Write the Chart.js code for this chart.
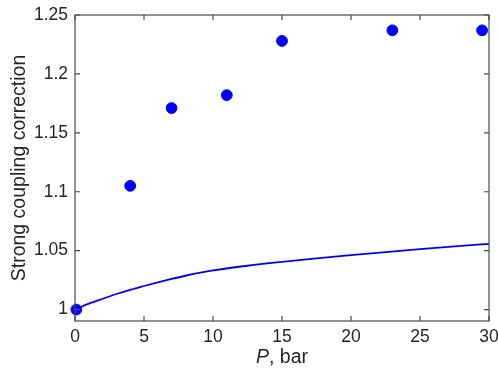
<!DOCTYPE html>
<html>
<head>
<meta charset="utf-8">
<script src="https://cdn.jsdelivr.net/npm/chart.js@4/dist/chart.umd.min.js"></script>
<style>
 html, body { margin: 0; padding: 0; background: #fff; }
 #wrap { width: 498px; height: 374px; }
</style>
</head>
<body>
<div id="wrap"><canvas id="chart" width="498" height="374"></canvas></div>
<script>
// measured points
const pressure = [0.1, 4, 7, 11, 15, 23, 29.5]
const correction = [1.000, 1.105, 1.171, 1.182, 1.228, 1.237, 1.237]

// theory curve
const curveP = [0, 1, 2, 3, 4, 5, 6, 7, 8, 9, 10, 12.5, 15, 17.5, 20, 22.5, 25, 27.5, 30]
const curveValue = [1.000, 1.0050, 1.0092, 1.0132, 1.0168, 1.0200, 1.0231, 1.0260, 1.0287, 1.0311, 1.0332,
 1.0372, 1.0405, 1.0435, 1.0462, 1.0488, 1.0513, 1.0536, 1.0558]

const xTicks = [0, 5, 10, 15, 20, 25, 30]
const yTicks = [1, 1.05, 1.1, 1.15, 1.2, 1.25]
const yTickLabels = ["1", "1.05", "1.1", "1.15", "1.2", "1.25"]

const ink = "#262626"
const axisInk = "#4a4a4a"
const font = "'Liberation Sans', Arial, sans-serif"

const boxPlugin = {
 id: "box",
 afterDatasetsDraw(chart) {
  const ctx = chart.ctx
  const a = chart.chartArea
  const xs = chart.scales.x
  const ys = chart.scales.y
  ctx.save()
  ctx.strokeStyle = axisInk
  ctx.lineWidth = 1.2
  ctx.strokeRect(a.left, a.top, a.right - a.left, a.bottom - a.top)
  const t = 5
  ctx.beginPath()
  xTicks.forEach(v => {
   const px = xs.getPixelForValue(v)
   ctx.moveTo(px, a.bottom); ctx.lineTo(px, a.bottom - t)
   ctx.moveTo(px, a.top); ctx.lineTo(px, a.top + t)
  })
  yTicks.forEach(v => {
   const py = ys.getPixelForValue(v)
   ctx.moveTo(a.left, py); ctx.lineTo(a.left + t, py)
   ctx.moveTo(a.right, py); ctx.lineTo(a.right - t, py)
  })
  ctx.stroke()

  // x axis title with italic P
  ctx.fillStyle = ink
  ctx.textBaseline = "alphabetic"
  const cx = (a.left + a.right) / 2
  const ty = 363
  ctx.font = "italic 19.5px " + font
  const w1 = ctx.measureText("P").width
  ctx.font = "19.5px " + font
  const w2 = ctx.measureText(", bar").width
  const start = cx - (w1 + w2) / 2
  ctx.font = "italic 19.5px " + font
  ctx.fillText("P", start, ty)
  ctx.font = "19.5px " + font
  ctx.fillText(", bar", start + w1, ty)
  ctx.restore()
 }
}

new Chart(document.getElementById("chart"), {
 type: "scatter",
 data: {
  datasets: [{
   type: "line",
   label: "theory",
   data: curveP.map((p, i) => ({ x: p, y: curveValue[i] })),
   borderColor: "#0000ff",
   borderWidth: 1.8,
   pointRadius: 0,
   fill: false,
   cubicInterpolationMode: "monotone"
  }, {
   label: "measured",
   data: pressure.map((p, i) => ({ x: p, y: correction[i] })),
   backgroundColor: "#0000ff",
   borderColor: "#0000ff",
   pointRadius: 5.4,
   pointHoverRadius: 5.4
  }]
 },
 plugins: [boxPlugin],
 options: {
  responsive: false,
  animation: false,
  clip: false,
  layout: { padding: { top: 15, right: 9, left: 0, bottom: 0 } },
  plugins: {
   legend: { display: false },
   tooltip: { enabled: false }
  },
  scales: {
   x: {
    type: "linear",
    min: 0,
    max: 30,
    grid: { display: false, drawTicks: false, tickLength: 0 },
    border: { display: false },
    afterBuildTicks: s => { s.ticks = xTicks.map(v => ({ value: v })) },
    afterFit: s => { s.height = 53; s.paddingLeft = 0; s.paddingRight = 0 },
    ticks: {
     color: ink,
     font: { family: font, size: 17.5 },
     padding: 6,
     maxRotation: 0
    }
   },
   y: {
    type: "linear",
    min: 0.9903,
    max: 1.25,
    grid: { display: false, drawTicks: false, tickLength: 0 },
    border: { display: false },
    afterBuildTicks: s => { s.ticks = yTicks.map(v => ({ value: v })) },
    afterFit: s => { s.width = 75; s.paddingTop = 0; s.paddingBottom = 0 },
    ticks: {
     color: ink,
     font: { family: font, size: 17.5 },
     padding: 7,
     callback: v => yTickLabels[yTicks.indexOf(v)]
    },
    title: {
     display: true,
     text: "Strong coupling correction",
     color: ink,
     font: { family: font, size: 19.5 },
     padding: { top: 8, bottom: 0 }
    }
   }
  }
 }
})
</script>
</body>
</html>
